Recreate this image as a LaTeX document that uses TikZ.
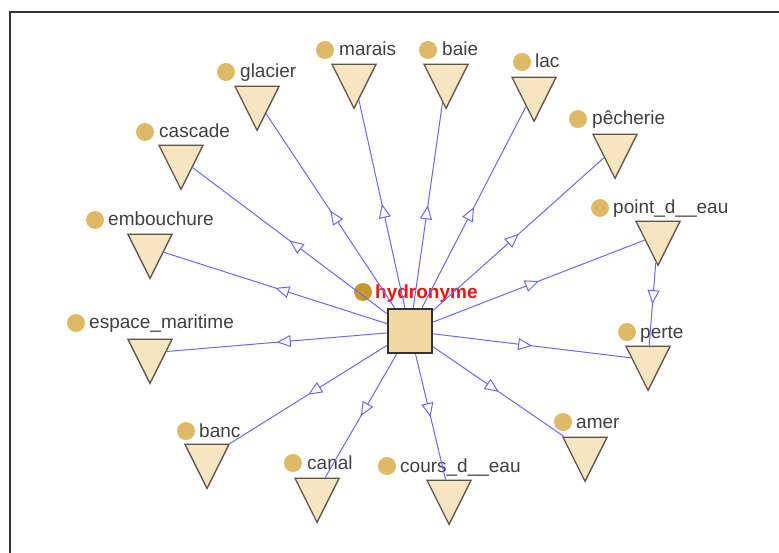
\documentclass[tikz,border=0pt]{standalone}
\usepackage{fontspec}
\setmainfont{Liberation Sans}
\usetikzlibrary{shapes.geometric,arrows.meta,decorations.markings}
\definecolor{edgeblue}{RGB}{105,105,250}
\definecolor{trifill}{RGB}{248,230,194}
\definecolor{tridraw}{RGB}{90,84,74}
\definecolor{dotgold}{RGB}{222,186,104}
\definecolor{dotdark}{RGB}{200,152,44}
\definecolor{sqfill}{RGB}{242,217,162}
\definecolor{txtgray}{RGB}{64,64,64}
\definecolor{hydred}{RGB}{240,20,20}
\begin{document}
\begin{tikzpicture}[x=1pt,y=-1pt,
  tri/.style={shape=isosceles triangle, shape border rotate=270,
    isosceles triangle stretches=true, minimum width=44pt, minimum height=44pt,
    inner sep=0pt, fill=trifill, draw=tridraw, line width=1.3pt, anchor=apex},
  sq/.style={shape=rectangle, minimum size=44pt, inner sep=0pt, fill=sqfill,
    draw=black!80, line width=2.5pt},
  dot/.style={shape=circle, minimum size=18pt, inner sep=0pt, fill=dotgold, draw=none},
  hdot/.style={dot, fill=dotdark},
  lbl/.style={anchor=base west, inner sep=0pt, text=txtgray, font=\fontsize{19}{22}\selectfont},
  hlbl/.style={lbl, text=hydred, font=\fontsize{19}{22}\selectfont\bfseries},
  conn/.style={draw=edgeblue, line width=1pt, postaction={decorate},
    decoration={markings, mark=at position 0.5 with {\arrow{Triangle[open,length=14pt,width=12pt,fill=white]}}}},
  frameline/.style={draw=black!80, line width=2pt}
]
\useasboundingbox (0,0) rectangle (779,553);
\fill[white] (0,0) rectangle (779,553);
\coordinate (f1) at (779,11.7);
\coordinate (f2) at (10,11.7);
\coordinate (f3) at (10,553);
\draw[frameline] (f1) -- (f2) -- (f3);

% central node
\node[sq] (hyd) at (410,331) {};
\node[hdot] (hyd-dot) at (363,292) {};
\node[hlbl] (hyd-lbl) at (375,299) {hydronyme};

% triangles
\node[tri] (glacier) at (257,132) {};
\node[tri] (marais) at (354,110) {};
\node[tri] (baie) at (446,110) {};
\node[tri] (lac) at (534,123) {};
\node[tri] (pecherie) at (615,180) {};
\node[tri] (pde) at (658,267) {};
\node[tri] (perte) at (648,392) {};
\node[tri] (amer) at (585,483) {};
\node[tri] (cde) at (449,526) {};
\node[tri] (canal) at (317,524) {};
\node[tri] (banc) at (207,490) {};
\node[tri] (espace) at (150,385) {};
\node[tri] (embouchure) at (150,280) {};
\node[tri] (cascade) at (181,191) {};

% labels
\node[dot] (glacier-dot) at (226,72) {};
\node[lbl] (glacier-lbl) at (240,78) {glacier};
\node[dot] (marais-dot) at (325,50) {};
\node[lbl] (marais-lbl) at (339,56) {marais};
\node[dot] (baie-dot) at (428,50) {};
\node[lbl] (baie-lbl) at (442,56) {baie};
\node[dot] (lac-dot) at (522,62) {};
\node[lbl] (lac-lbl) at (535,68) {lac};
\node[dot] (pecherie-dot) at (578,119) {};
\node[lbl] (pecherie-lbl) at (592,125) {pêcherie};
\node[dot] (pde-dot) at (600,208) {};
\node[lbl] (pde-lbl) at (613,214) {point\_d\_\_eau};
\node[dot] (perte-dot) at (627,332) {};
\node[lbl] (perte-lbl) at (640,338) {perte};
\node[dot] (amer-dot) at (563,422) {};
\node[lbl] (amer-lbl) at (576,428) {amer};
\node[dot] (cde-dot) at (387,466) {};
\node[lbl] (cde-lbl) at (400,472) {cours\_d\_\_eau};
\node[dot] (canal-dot) at (293,463) {};
\node[lbl] (canal-lbl) at (307,469) {canal};
\node[dot] (banc-dot) at (186,431) {};
\node[lbl] (banc-lbl) at (199,437) {banc};
\node[dot] (espace-dot) at (76,323) {};
\node[lbl] (espace-lbl) at (89,329) {espace\_maritime};
\node[dot] (embouchure-dot) at (95,220) {};
\node[lbl] (embouchure-lbl) at (108,226) {embouchure};
\node[dot] (cascade-dot) at (145,132) {};
\node[lbl] (cascade-lbl) at (159,138) {cascade};

% connectors
\foreach \t in {glacier,marais,baie,lac,pecherie,pde,perte,amer,cde,canal,banc,espace,embouchure,cascade}
  \draw[conn] (hyd) -- (\t);
\draw[conn] (pde) -- (perte);
\end{tikzpicture}
\end{document}
